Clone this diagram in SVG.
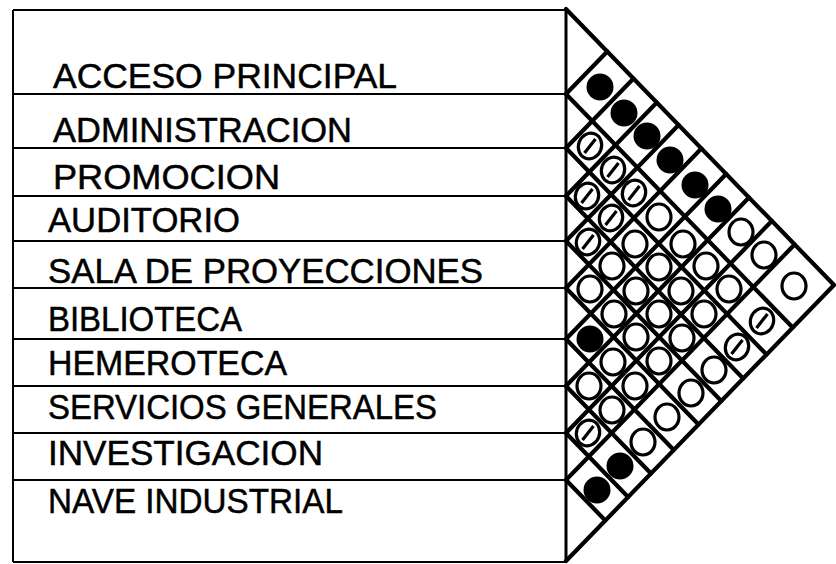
<svg xmlns="http://www.w3.org/2000/svg" xmlns:xlink="http://www.w3.org/1999/xlink" width="836" height="564" viewBox="0 0 836 564">
<style>
.lbl{font-family:"Liberation Sans",Arial,sans-serif;font-size:35px;fill:#000;stroke:#000;stroke-width:0.5}
.thin{stroke:#000;stroke-width:2;fill:none}
.sep{stroke:#000;stroke-width:2.2;fill:none}
.diag{stroke:#000;stroke-width:4.2;fill:none;stroke-linecap:round}
</style>
<defs>
<circle id="F" r="13.5" fill="#000"/>
<ellipse id="O" rx="12" ry="13" fill="#fff" stroke="#000" stroke-width="3.2"/>
<g id="S"><ellipse rx="11.5" ry="13" fill="#fff" stroke="#000" stroke-width="3.2" transform="rotate(20)"/><line x1="-5.5" y1="7" x2="5.5" y2="-7" stroke="#000" stroke-width="3.2"/></g>
</defs>
<rect width="836" height="564" fill="#fff"/>
<g id="table">
<line class="thin" x1="13" y1="10" x2="566" y2="10"/>
<line class="thin" x1="13" y1="10" x2="13" y2="562"/>
<line class="thin" x1="13" y1="562" x2="566" y2="562"/>
<line x1="566" y1="9" x2="566" y2="562" stroke="#000" stroke-width="3"/>
</g>
<g id="n1"><line class="sep" x1="13" y1="94" x2="566" y2="94"/><text class="lbl" x="53" y="88" textLength="344" lengthAdjust="spacingAndGlyphs">ACCESO PRINCIPAL</text></g>
<g id="n2"><line class="sep" x1="13" y1="148" x2="566" y2="148"/><text class="lbl" x="53" y="142" textLength="299" lengthAdjust="spacingAndGlyphs">ADMINISTRACION</text></g>
<g id="n3"><line class="sep" x1="13" y1="196" x2="566" y2="196"/><text class="lbl" x="53" y="189" textLength="227" lengthAdjust="spacingAndGlyphs">PROMOCION</text></g>
<g id="n4"><line class="sep" x1="13" y1="241" x2="566" y2="241"/><text class="lbl" x="48" y="232" textLength="192" lengthAdjust="spacingAndGlyphs">AUDITORIO</text></g>
<g id="n5"><line class="sep" x1="13" y1="288" x2="566" y2="288"/><text class="lbl" x="48" y="283" textLength="435" lengthAdjust="spacingAndGlyphs">SALA DE PROYECCIONES</text></g>
<g id="n6"><line class="sep" x1="13" y1="339" x2="566" y2="339"/><text class="lbl" x="48" y="331" textLength="194" lengthAdjust="spacingAndGlyphs">BIBLIOTECA</text></g>
<g id="n7"><line class="sep" x1="13" y1="386" x2="566" y2="386"/><text class="lbl" x="48" y="375" textLength="239" lengthAdjust="spacingAndGlyphs">HEMEROTECA</text></g>
<g id="n8"><line class="sep" x1="13" y1="433" x2="566" y2="433"/><text class="lbl" x="48" y="419" textLength="389" lengthAdjust="spacingAndGlyphs">SERVICIOS GENERALES</text></g>
<g id="n9"><line class="sep" x1="13" y1="480" x2="566" y2="480"/><text class="lbl" x="48" y="465" textLength="275" lengthAdjust="spacingAndGlyphs">INVESTIGACION</text></g>
<g id="n10"><text class="lbl" x="48" y="513" textLength="295" lengthAdjust="spacingAndGlyphs">NAVE INDUSTRIAL</text></g>
<g id="connectors">
<polyline class="diag" points="566,9 834,285 566,561"/>
<line class="diag" x1="566" y1="94" x2="792.7" y2="327.5"/><line class="diag" x1="566" y1="94" x2="607.3" y2="51.5"/>
<line class="diag" x1="566" y1="148" x2="766.5" y2="354.5"/><line class="diag" x1="566" y1="148" x2="633.5" y2="78.5"/>
<line class="diag" x1="566" y1="196" x2="743.2" y2="378.5"/><line class="diag" x1="566" y1="196" x2="656.8" y2="102.5"/>
<line class="diag" x1="566" y1="241" x2="721.3" y2="401"/><line class="diag" x1="566" y1="241" x2="678.6" y2="125"/>
<line class="diag" x1="566" y1="288" x2="698.5" y2="424.5"/><line class="diag" x1="566" y1="288" x2="701.4" y2="148.5"/>
<line class="diag" x1="566" y1="339" x2="673.8" y2="450"/><line class="diag" x1="566" y1="339" x2="726.2" y2="174"/>
<line class="diag" x1="566" y1="386" x2="651" y2="473.5"/><line class="diag" x1="566" y1="386" x2="749" y2="197.5"/>
<line class="diag" x1="566" y1="433" x2="628.1" y2="497"/><line class="diag" x1="566" y1="433" x2="771.8" y2="221"/>
<line class="diag" x1="566" y1="480" x2="605.3" y2="520.5"/><line class="diag" x1="566" y1="480" x2="794.6" y2="244.5"/>
</g>
<g id="cells">
<use xlink:href="#F" x="600" y="87"/>
<use xlink:href="#F" x="624" y="113"/>
<use xlink:href="#F" x="647" y="136"/>
<use xlink:href="#F" x="670" y="160"/>
<use xlink:href="#F" x="695" y="185"/>
<use xlink:href="#F" x="718" y="209"/>
<use xlink:href="#F" x="590" y="339"/>
<use xlink:href="#F" x="620" y="466"/>
<use xlink:href="#F" x="597" y="490"/>
<use xlink:href="#S" x="590" y="146"/>
<use xlink:href="#S" x="587" y="196"/>
<use xlink:href="#S" x="588" y="242"/>
<use xlink:href="#S" x="588" y="433"/>
<use xlink:href="#S" x="613" y="170"/>
<use xlink:href="#S" x="611" y="218"/>
<use xlink:href="#S" x="634" y="193"/>
<use xlink:href="#S" x="737" y="347"/>
<use xlink:href="#S" x="762" y="321"/>
<use xlink:href="#O" x="590" y="289"/>
<use xlink:href="#O" x="589" y="386"/>
<use xlink:href="#O" x="612" y="266"/>
<use xlink:href="#O" x="614" y="314"/>
<use xlink:href="#O" x="613" y="362"/>
<use xlink:href="#O" x="612" y="410"/>
<use xlink:href="#O" x="635" y="244"/>
<use xlink:href="#O" x="636" y="291"/>
<use xlink:href="#O" x="636" y="337"/>
<use xlink:href="#O" x="635" y="386"/>
<use xlink:href="#O" x="643" y="442"/>
<use xlink:href="#O" x="659" y="217"/>
<use xlink:href="#O" x="659" y="267"/>
<use xlink:href="#O" x="659" y="314"/>
<use xlink:href="#O" x="659" y="361"/>
<use xlink:href="#O" x="667" y="417"/>
<use xlink:href="#O" x="683" y="244"/>
<use xlink:href="#O" x="681" y="291"/>
<use xlink:href="#O" x="682" y="338"/>
<use xlink:href="#O" x="691" y="393"/>
<use xlink:href="#O" x="706" y="266"/>
<use xlink:href="#O" x="704" y="314"/>
<use xlink:href="#O" x="714" y="370"/>
<use xlink:href="#O" x="741" y="232"/>
<use xlink:href="#O" x="729" y="289"/>
<use xlink:href="#O" x="764" y="255"/>
<use xlink:href="#O" x="794" y="286"/>
</g>
</svg>
